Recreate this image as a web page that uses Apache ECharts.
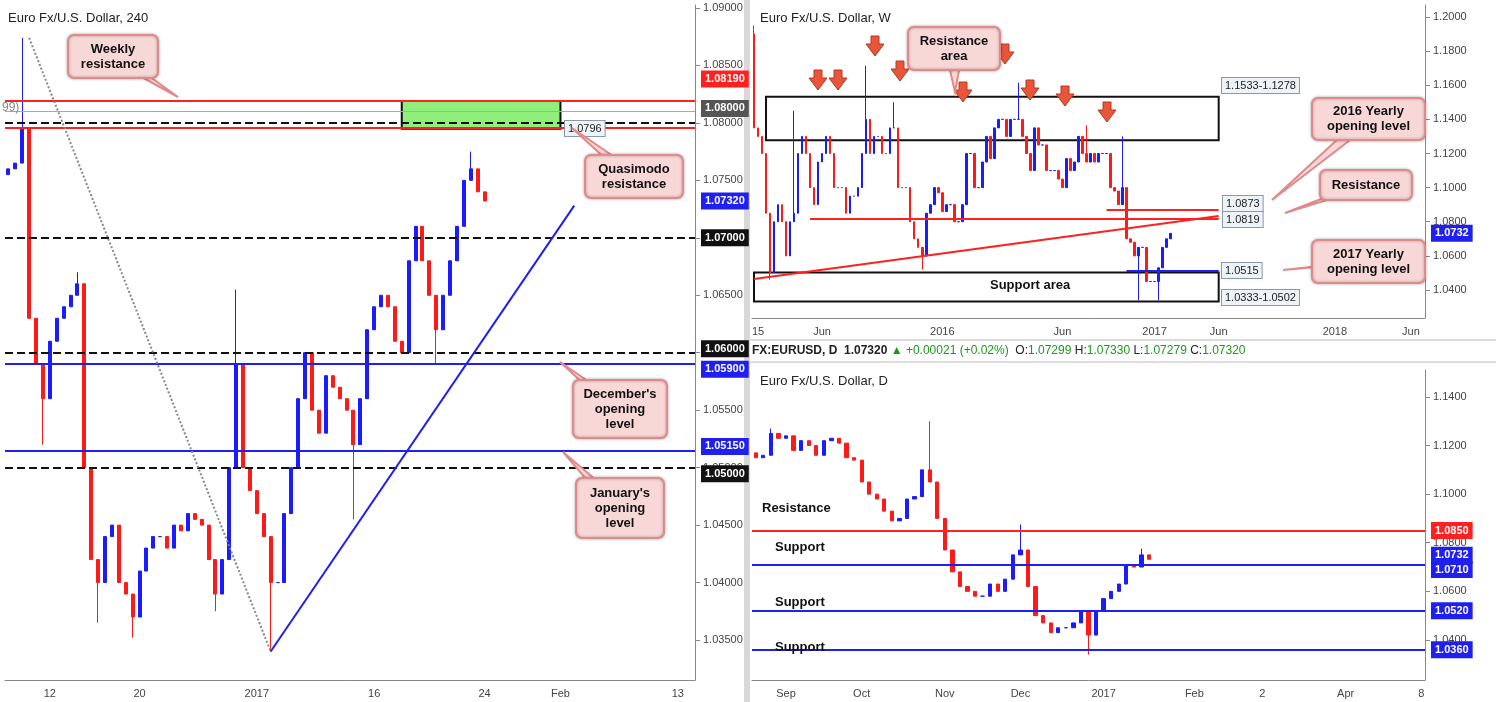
<!DOCTYPE html><html><head><meta charset="utf-8">
<script src="https://cdn.jsdelivr.net/npm/echarts@6/dist/echarts.min.js"></script>
<style>html,body{margin:0;background:#fff}#c{width:1496px;height:702px}</style></head><body><div id="c"></div>
<script>
// ---- Left panel (240) : 2 candles per trading day, Dec 7 -> Jan 24
const leftOpen0 = 1.0755;
const leftClose = [1.0760,1.0765,1.0795,1.0630,1.0590,1.0560,1.0610,1.0630,1.0640,1.0650,1.0660,1.0500,1.0420,1.0400,1.0440,1.0450,1.0400,1.0390,1.0370,1.0410,1.0430,1.0440,1.0440,1.0430,1.0450,1.0445,1.0460,1.0455,1.0450,1.0420,1.0390,1.0420,1.0500,1.0590,1.0500,1.0480,1.0460,1.0440,1.0400,1.0400,1.0460,1.0500,1.0560,1.0600,1.0550,1.0530,1.0580,1.0570,1.0560,1.0550,1.0520,1.0560,1.0620,1.0640,1.0650,1.0640,1.0610,1.0600,1.0680,1.0710,1.0680,1.0650,1.0620,1.0650,1.0680,1.0710,1.0750,1.0760,1.0740,1.0732];
const leftSpikes = [[2,1.0874,null],[5,null,1.0520],[10,1.0670,null],[13,null,1.0365],[18,null,1.0352],[30,null,1.0375],[33,1.0655,null],[38,null,1.0340],[50,null,1.0455],[62,null,1.0590],[67,1.0775,null]];
const leftSlots = 100;
const leftTicks = [[6,'12'],[19,'20'],[36,'2017'],[53,'16'],[69,'24'],[80,'Feb'],[97,'13']];
const leftYTicks = [1.035,1.04,1.045,1.05,1.055,1.06,1.065,1.07,1.075,1.08,1.085,1.09];
// ---- Weekly panel
const wOpen0 = 1.1900;
const wClose = [1.135,1.130,1.120, 1.085,1.050,1.080,1.090, 1.080,1.060,1.080,1.085,1.120, 1.130,1.120,1.100,1.090, 1.115,1.120,1.130,1.120,1.100, 1.100,1.100,1.085,1.095, 1.095,1.100,1.120,1.140, 1.120,1.130,1.130,1.120, 1.120,1.135,1.135,1.100,1.100, 1.100,1.080,1.070,1.065,1.060, 1.085,1.090,1.100,1.097,1.086,
 1.090,1.090,1.080,1.080, 1.090,1.120,1.120,1.100, 1.100,1.115,1.130,1.117,1.135, 1.140,1.140,1.130,1.140, 1.140,1.140,1.130,1.120,1.110, 1.135,1.125,1.125,1.110,1.110, 1.110,1.105,1.100,1.117, 1.110,1.115,1.130,1.120, 1.115,1.120,1.115,1.120,1.120, 1.120,1.100,1.098,1.090, 1.100,1.070,1.068,1.060, 1.065,1.065,1.045,1.045,1.045, 1.053,1.065,1.070,1.0732];
const wSpikes = [[0,1.1950,null],[4,null,1.0460],[10,1.1450,null],[28,1.1714,null],[35,1.1500,null],[42,null,1.0520],[66,1.1615,null],[83,1.1365,null],[92,1.1300,null],[96,null,1.0340],[101,null,1.0340]];
const wSlots = 168;
const wTicks = [[1,'15'],[17,'Jun'],[47,'2016'],[77,'Jun'],[100,'2017'],[116,'Jun'],[145,'2018'],[164,'Jun']];
const wYTicks = [1.04,1.06,1.08,1.10,1.12,1.14,1.16,1.18,1.20];
// ---- Daily panel (2 trading days per candle)
const dOpen0 = 1.1170;
const dClose = [1.115,1.116,1.125,1.123,1.124,1.118,1.122,1.120,1.116,1.122,1.123, 1.121,1.115,1.114,1.105,1.100,1.098,1.093,1.089,1.090,1.098,1.099, 1.110,1.105,1.090,1.077,1.068,1.062,1.060,1.058,1.058,1.063,1.060, 1.065,1.075,1.077,1.062,1.050,1.047,1.043,1.045,1.045,1.047,1.052, 1.042,1.052,1.057,1.060,1.063,1.071,1.070,1.075,1.0732];
const dSpikes = [[2,1.1270,null],[23,1.1300,null],[35,1.0875,null],[44,null,1.0340],[51,1.0775,null]];
const dSlots = 89;
const dTicks = [[4,'Sep'],[14,'Oct'],[25,'Nov'],[35,'Dec'],[46,'2017'],[58,'Feb'],[67,'2'],[78,'Apr'],[88,'8']];
const dYTicks = [1.04,1.06,1.08,1.10,1.12,1.14];

function ohlc(open0, closes, spikes){
  const out=[]; let o=open0;
  closes.forEach((c,i)=>{ let h=Math.max(o,c), l=Math.min(o,c);
    spikes.forEach(s=>{ if(s[0]===i){ if(s[1]!=null) h=Math.max(h,s[1]); if(s[2]!=null) l=Math.min(l,s[2]); }});
    out.push([o,c,l,h]); o=c; });
  return out;
}
function labels(n,ticks){ const a=new Array(n).fill(''); ticks.forEach(t=>a[t[0]]=t[1]); return a; }
const UP='#1b1bff', DN='#ff1a1a', BLUE='#1f1ff0', RED='#ff2020';
function hl(y,color,type,w,tag,tagBg,off){ return {yAxis:y,lineStyle:{color,type,width:w},
  label:tag?{show:true,position:'end',formatter:tag,backgroundColor:tagBg,color:'#fff',padding:[3,4],fontSize:11,fontWeight:'bold',distance:6,offset:off||[0,0]}:{show:false}}; }
function seg(x1,y1,x2,y2,color,type,w){ return [{coord:[x1,y1],lineStyle:{color,type,width:w},label:{show:false}},{coord:[x2,y2]}]; }

const xa=(gi,n,ticks)=>({type:'category',gridIndex:gi,data:labels(n,ticks),boundaryGap:true,
  axisLine:{lineStyle:{color:'#888'}},axisTick:{show:false},
  axisLabel:{interval:0,color:'#444',fontSize:11,fontFamily:'Arial'},splitLine:{show:false}});
const ya=(gi,min,max,vals,dec)=>({type:'value',gridIndex:gi,position:'right',min,max,scale:true,
  axisLine:{show:true,lineStyle:{color:'#888'}},axisTick:{show:true,customValues:vals,lineStyle:{color:'#888'}},
  axisLabel:{customValues:vals,formatter:v=>v.toFixed(dec),color:'#444',fontSize:11,fontFamily:'Arial'},splitLine:{show:false}});

const candle=(gi,data,extra)=>Object.assign({type:'candlestick',xAxisIndex:gi,yAxisIndex:gi,data,barMaxWidth:4,
  itemStyle:{color:UP,color0:DN,borderColor:UP,borderColor0:DN,borderWidth:1}},extra);

const callouts=[
 [68,35,90,43,'Weekly\nresistance',178,97],
 [585,155,98,43,'Quasimodo\nresistance',572,128],
 [573,380,94,58,"December's\nopening\nlevel",560,362],
 [576,478,88,60,"January's\nopening\nlevel",563,452],
 [908,27,92,43,'Resistance\narea',955,92],
 [1312,98,113,42,'2016 Yearly\nopening level',1272,200],
 [1320,170,92,30,'Resistance',1285,213],
 [1312,240,113,43,'2017 Yearly\nopening level',1283,270]];
const g=[];
callouts.forEach(c=>{const [x,y,w,h,t,tx,ty]=c; const cx=x+w/2, cy=y+h/2;
  g.push({type:'polygon',shape:{points:[[cx-9,cy],[cx+9,cy],[tx,ty]]},style:{fill:'#f8d7d7',stroke:'#e08a8a',lineWidth:2},z:100});
  g.push({type:'rect',shape:{x,y,width:w,height:h,r:6},style:{fill:'#f8d7d7',stroke:'#e08a8a',lineWidth:2,shadowBlur:3,shadowColor:'rgba(0,0,0,0.3)'},z:101});
  g.push({type:'text',x:cx,y:cy,style:{text:t,fill:'#111',font:'bold 13px Arial',align:'center',verticalAlign:'middle',lineHeight:15},z:102});});
const arrows=[[818,84],[838,84],[875,50],[900,75],[963,96],[1005,58],[1030,94],[1065,100],[1107,116]];
arrows.forEach(a=>{const [x,y]=a; g.push({type:'polygon',shape:{points:[[x-4,y-14],[x+4,y-14],[x+4,y-6],[x+9,y-6],[x,y+6],[x-9,y-6],[x-4,y-6]]},style:{fill:'#e8553a',stroke:'#b03a20',lineWidth:1},z:90});});
const boxes=[[1222,78,'1.1533-1.1278'],[1223,196,'1.0873'],[1223,212,'1.0819'],[1222,263,'1.0515'],[1222,290,'1.0333-1.0502'],[565,121,'1.0796']];
boxes.forEach(b=>g.push({type:'text',x:b[0],y:b[1],style:{text:b[2],fill:'#222',font:'11px Arial',backgroundColor:'#eef3f8',borderColor:'#8899aa',borderWidth:1,padding:[2,3]},z:95}));
const texts=[[8,18,'Euro Fx/U.S. Dollar, 240','13px Arial','#222'],[760,18,'Euro Fx/U.S. Dollar, W','13px Arial','#222'],[760,381,'Euro Fx/U.S. Dollar, D','13px Arial','#222'],
 [990,285,'Support area','bold 13px Arial','#111'],[762,508,'Resistance','bold 13px Arial','#111'],[775,547,'Support','bold 13px Arial','#111'],[775,602,'Support','bold 13px Arial','#111'],[775,647,'Support','bold 13px Arial','#111'],[2,108,'99)','12px Arial','#888']];
texts.forEach(t=>g.push({type:'text',x:t[0],y:t[1],style:{text:t[2],font:t[3],fill:t[4],verticalAlign:'middle'},z:95}));
g.push({type:'text',x:752,y:351,style:{verticalAlign:'middle',rich:{a:{font:'bold 12px Arial',fill:'#222'},b:{font:'12px Arial',fill:'#1a9a1a'},c:{font:'12px Arial',fill:'#222'}},text:'{a|FX:EURUSD, D  1.07320 }{b|▲ +0.00021 (+0.02%)}{c|  O:}{b|1.07299}{c| H:}{b|1.07330}{c| L:}{b|1.07279}{c| C:}{b|1.07320}'},z:95});
g.push({type:'rect',shape:{x:744,y:0,width:6,height:702},style:{fill:'#d8d8d8'},z:1});
g.push({type:'line',shape:{x1:750,y1:340,x2:1496,y2:340},style:{stroke:'#bbb'},z:1});
g.push({type:'line',shape:{x1:750,y1:362,x2:1496,y2:362},style:{stroke:'#bbb'},z:1});

const ML={symbol:'none',silent:true,precision:5};
const option={animation:false,backgroundColor:'#fff',graphic:g,
 grid:[{left:5,top:5,width:690,height:675},{left:752,top:5,width:673,height:313},{left:752,top:370,width:673,height:310}],
 xAxis:[xa(0,leftSlots,leftTicks),xa(1,wSlots,wTicks),xa(2,dSlots,dTicks)],
 yAxis:[ya(0,1.03152,1.09026,leftYTicks,5),ya(1,1.0236,1.207,wYTicks,4),ya(2,1.0235,1.1511,dYTicks,4)],
 series:[
  candle(0,ohlc(leftOpen0,leftClose,leftSpikes),{
   markLine:Object.assign({data:[
    hl(1.0819,RED,'solid',2,'1.08190',RED,[0,-22]),hl(1.0810,'#aaa','solid',1,'1.08000','#555',[0,-3]),
    hl(1.0796,RED,'solid',2),hl(1.0800,'#111','dashed',2),hl(1.0732,'rgba(0,0,0,0)','solid',1,'1.07320',BLUE),
    hl(1.0700,'#111','dashed',2,'1.07000','#111'),hl(1.0600,'#111','dashed',2,'1.06000','#111',[0,-4]),
    hl(1.0590,BLUE,'solid',2,'1.05900',BLUE,[0,5]),hl(1.0515,BLUE,'solid',2,'1.05150',BLUE,[0,-4]),
    hl(1.0500,'#111','dashed',2,'1.05000','#111',[0,6]),
    seg(38,1.0340,82,1.0728,BLUE,'solid',2),seg(3,1.0874,38,1.0340,'#888','dotted',2)]},ML),
   markArea:{silent:true,data:[[{xAxis:57,yAxis:1.0819,itemStyle:{color:'#8ef07a',borderColor:'#111',borderWidth:2}},{xAxis:80,yAxis:1.0795}]]}}),
  candle(1,ohlc(wOpen0,wClose,wSpikes),{
   markLine:Object.assign({data:[
    hl(1.0732,'rgba(0,0,0,0)','solid',1,'1.0732',BLUE),
    seg(88,1.0873,116,1.0873,RED,'solid',2),seg(14,1.0819,116,1.0819,RED,'solid',2),
    seg(0,1.0465,116,1.0833,RED,'solid',2),seg(93,1.0515,116,1.0515,BLUE,'solid',2)]},ML),
   markArea:{silent:true,data:[
    [{xAxis:3,yAxis:1.1533,itemStyle:{color:'rgba(0,0,0,0)',borderColor:'#111',borderWidth:2}},{xAxis:116,yAxis:1.1278}],
    [{xAxis:0,yAxis:1.0502,itemStyle:{color:'rgba(0,0,0,0)',borderColor:'#111',borderWidth:2}},{xAxis:116,yAxis:1.0333}]]}}),
  candle(2,ohlc(dOpen0,dClose,dSpikes),{
   markLine:Object.assign({data:[
    hl(1.0850,RED,'solid',2,'1.0850',RED),hl(1.0732,'rgba(0,0,0,0)','solid',1,'1.0732',BLUE,[0,-4]),
    hl(1.0710,BLUE,'solid',2,'1.0710',BLUE,[0,5]),hl(1.0520,BLUE,'solid',2,'1.0520',BLUE),hl(1.0360,BLUE,'solid',2,'1.0360',BLUE)]},ML)})
 ]};
echarts.init(document.getElementById('c')).setOption(option);
</script></body></html>
